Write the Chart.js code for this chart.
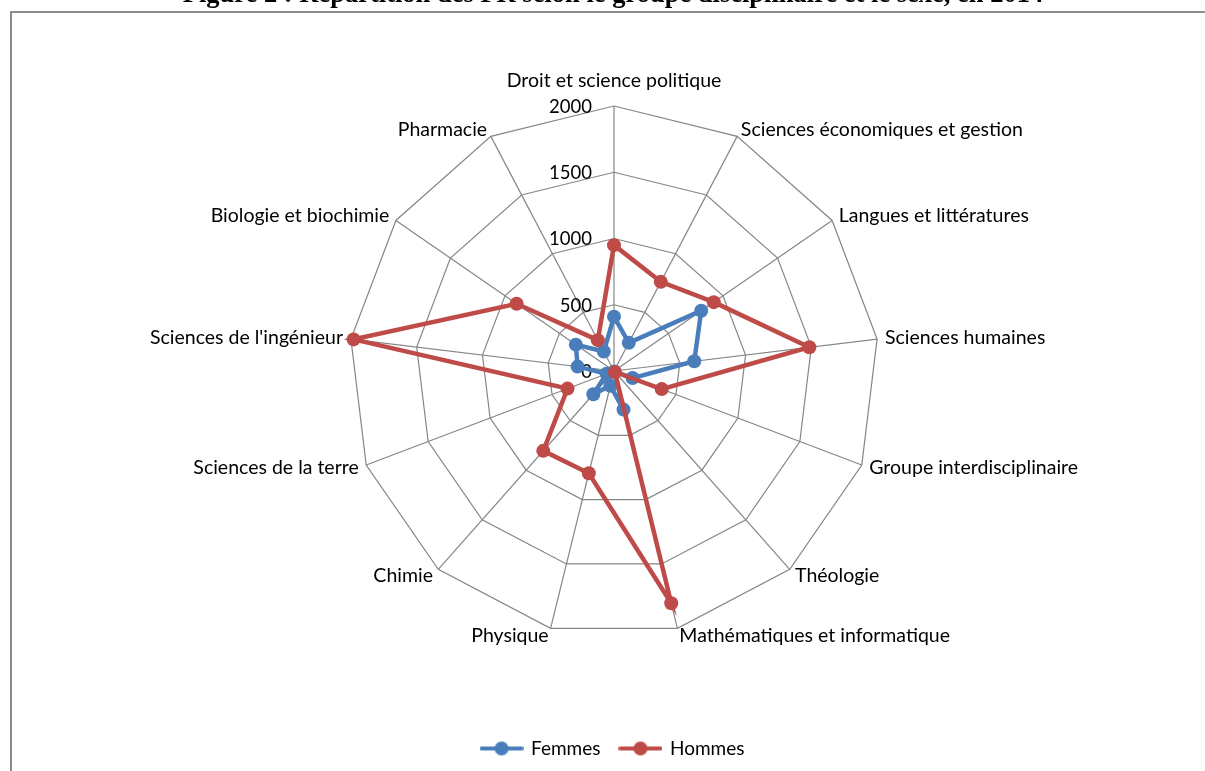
<!DOCTYPE html>
<html lang="fr">
<head>
<meta charset="utf-8">
<title>Répartition des PR selon le groupe disciplinaire et le sexe, en 2014</title>
<script src="https://cdn.jsdelivr.net/npm/chart.js@4.4.1/dist/chart.umd.min.js"></script>
<style>
    html, body { margin: 0; padding: 0; width: 1205px; height: 771px; overflow: hidden; background: #fff; }
    /* cadre gris du graphique Excel, coupé à droite et en bas */
    #cadre { position: absolute; left: 10px; top: 11px; width: 1300px; height: 900px; border: 2px solid #8c8c8c; box-sizing: border-box; }
    #zone { position: absolute; left: 0; top: 0; width: 1205px; height: 771px; }
</style>
</head>
<body>
<div id="cadre"></div>
<div id="zone"><canvas id="radar_pr"></canvas></div>
<script>
/* Figure 2 : nombre de PR par groupe disciplinaire, femmes / hommes (2014) */
const groupes = [
    'Droit et science politique',
    'Sciences économiques et gestion',
    'Langues et littératures',
    'Sciences humaines',
    'Groupe interdisciplinaire',
    'Théologie',
    'Mathématiques et informatique',
    'Physique',
    'Chimie',
    'Sciences de la terre',
    "Sciences de l'ingénieur",
    'Biologie et biochimie',
    'Pharmacie'
];

const femmes = [410, 240, 800, 610, 150, 5, 300, 115, 235, 60, 277, 350, 166];
const hommes = [950, 760, 915, 1485, 385, 10, 1805, 795, 805, 375, 1980, 893, 263];

const echelle_min = 0;
const echelle_max = 2000;
const echelle_pas = 500;

const bleu = '#4A7EBB';
const rouge = '#BE4B48';

Chart.defaults.font.family = 'Lato, "Open Sans", sans-serif';
Chart.defaults.color = '#000';

// petit trait + rond comme dans la légende Excel
function iconeLegende(cor) {
    var c = document.createElement('canvas');
    c.width = 44;
    c.height = 16;
    var g = c.getContext('2d');
    g.strokeStyle = cor;
    g.lineWidth = 4;
    g.lineCap = 'round';
    g.beginPath();
    g.moveTo(2, 8);
    g.lineTo(42, 8);
    g.stroke();
    g.fillStyle = cor;
    g.beginPath();
    g.arc(22, 8, 7, 0, Math.PI * 2);
    g.fill();
    return c;
}
const icones = [iconeLegende(bleu), iconeLegende(rouge)];

// graduations à gauche de l'axe vertical et noms des groupes autour de la toile
const rotulos = {
    id: 'rotulos',
    beforeDatasetsDraw(chart) {
        const r = chart.scales.r;
        const ctx = chart.ctx;
        ctx.save();
        ctx.font = '18.5px Lato';
        ctx.fillStyle = '#000';
        ctx.textAlign = 'right';
        ctx.textBaseline = 'middle';
        r.ticks.forEach(function (t) {
            const y = r.yCenter - r.getDistanceFromCenterForValue(t.value);
            ctx.fillText(String(t.value), r.xCenter - 22, y + 1);
        });
        ctx.restore();
    },
    afterDraw(chart) {
        const r = chart.scales.r;
        const ctx = chart.ctx;
        ctx.save();
        ctx.font = '19.5px Lato';
        ctx.fillStyle = '#000';
        ctx.textBaseline = 'middle';
        groupes.forEach(function (nom, i) {
            const a = r.getIndexAngle(i);
            const p = r.getPointPosition(i, r.drawingArea + 8);
            const s = Math.sin(a);
            let y = p.y;
            if (Math.abs(s) < 0.05) {
                ctx.textAlign = 'center';
                y += Math.cos(a) > 0 ? -17 : 17;
            } else {
                ctx.textAlign = s > 0 ? 'left' : 'right';
            }
            ctx.fillText(nom, p.x, y);
        });
        ctx.restore();
    }
};

const data_radar_pr = {
    labels: groupes,
    datasets: [{
        label: 'Femmes',
        data: femmes,
        borderColor: bleu,
        backgroundColor: bleu,
        pointBackgroundColor: bleu,
        order: 1
    },
    {
        label: 'Hommes',
        data: hommes,
        borderColor: rouge,
        backgroundColor: rouge,
        pointBackgroundColor: rouge,
        order: 0
    }]
};

const config_radar_pr = {
    type: 'radar',
    data: data_radar_pr,
    plugins: [rotulos],
    options: {
        responsive: true,
        maintainAspectRatio: false,
        animation: false,
        layout: { padding: { left: 22, right: 1, top: 0, bottom: 3 } },
        elements: {
            line: { borderWidth: 4.5, tension: 0, fill: false },
            point: { radius: 7, borderWidth: 0, hoverRadius: 7 }
        },
        scales: {
            r: {
                min: echelle_min,
                max: echelle_max,
                ticks: { stepSize: echelle_pas, display: false },
                grid: { color: '#868686', lineWidth: 1.2 },
                angleLines: { color: '#868686', lineWidth: 1.2 },
                pointLabels: { display: false },
                // centre et rayon de la toile repris de la figure d'origine
                afterFit: function (scale) {
                    scale.xCenter = 614;
                    scale.yCenter = 371;
                    scale.drawingArea = 265;
                }
            }
        },
        plugins: {
            title: {
                display: true,
                text: 'Figure 2 : Répartition des PR selon le groupe disciplinaire et le sexe, en 2014',
                font: { family: '"Liberation Serif", "Times New Roman", serif', size: 26.5, weight: 'bold' },
                color: '#000',
                padding: { top: -20.5, bottom: 0 }
            },
            legend: {
                position: 'bottom',
                labels: {
                    usePointStyle: true,
                    pointStyleWidth: 40,
                    padding: 20,
                    font: { size: 19 },
                    color: '#000',
                    generateLabels: function (chart) {
                        var itens = Chart.defaults.plugins.legend.labels.generateLabels(chart);
                        itens.sort(function (a, b) { return a.datasetIndex - b.datasetIndex; });
                        itens.forEach(function (it) { it.pointStyle = icones[it.datasetIndex]; });
                        return itens;
                    }
                }
            },
            tooltip: { enabled: false }
        }
    }
};

const grafico_radar_pr = new Chart(
    document.getElementById('radar_pr'),
    config_radar_pr
);
</script>
</body>
</html>
